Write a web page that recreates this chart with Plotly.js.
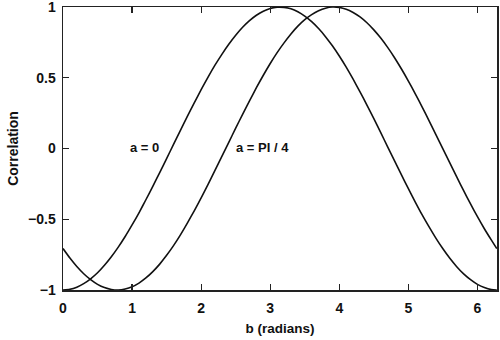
<!DOCTYPE html>
<html><head><meta charset="utf-8">
<script src="https://cdn.plot.ly/plotly-3.0.1.min.js"></script>
<style>html,body{margin:0;padding:0;background:#fff}#c{width:500px;height:340px}</style>
</head><body><div id="c"></div>
<script>
var b = [0,0.1,0.2,0.3,0.4,0.5,0.6,0.7,0.8,0.9,1.0,1.1,1.2,1.3,1.4,1.5,1.6,1.7,1.8,1.9,2.0,2.1,2.2,2.3,2.4,2.5,2.6,2.7,2.8,2.9,3.0,3.1,3.2,3.3,3.4,3.5,3.6,3.7,3.8,3.9,4.0,4.1,4.2,4.3,4.4,4.5,4.6,4.7,4.8,4.9,5.0,5.1,5.2,5.3,5.4,5.5,5.6,5.7,5.8,5.9,6.0,6.1,6.2,6.28];
var corrA0 = [-1,-0.995,-0.98,-0.955,-0.921,-0.878,-0.825,-0.765,-0.697,-0.622,-0.54,-0.454,-0.362,-0.267,-0.17,-0.071,0.029,0.129,0.227,0.323,0.416,0.505,0.589,0.666,0.737,0.801,0.857,0.904,0.942,0.971,0.99,0.999,0.998,0.988,0.967,0.936,0.897,0.848,0.791,0.726,0.654,0.575,0.49,0.401,0.307,0.211,0.112,0.012,-0.087,-0.186,-0.284,-0.378,-0.469,-0.554,-0.635,-0.709,-0.776,-0.835,-0.886,-0.927,-0.96,-0.983,-0.997,-1];
var corrAPi4 = [-0.707,-0.774,-0.834,-0.885,-0.927,-0.96,-0.983,-0.996,-1.0,-0.993,-0.977,-0.951,-0.915,-0.87,-0.817,-0.755,-0.686,-0.61,-0.527,-0.44,-0.348,-0.253,-0.155,-0.056,0.044,0.144,0.242,0.337,0.43,0.518,0.601,0.678,0.747,0.81,0.865,0.911,0.947,0.974,0.992,1.0,0.997,0.985,0.962,0.93,0.889,0.839,0.781,0.715,0.642,0.562,0.477,0.387,0.293,0.196,0.097,-0.003,-0.102,-0.201,-0.298,-0.392,-0.482,-0.567,-0.646,-0.707];
var xTicks = [0,1,2,3,4,5,6];
var yTicks = [-1,-0.5,0,0.5,1];
var yTickText = ['\u22121','\u22120.5','0','0.5','1'];
var labels = ['a = 0','a = PI / 4'];
var labelX = [1.18,2.89];
var labelY = [0.01,0.01];

var fam = 'Liberation Sans, Arial, sans-serif';
var tickFont = {family:fam, size:14, color:'#111', weight:'bold'};
var titleFont = {family:fam, size:13, color:'#111', weight:'bold'};
var line = {color:'#111', width:1.6, shape:'spline', smoothing:0.6};
var data = [
  {x:b, y:corrA0, mode:'lines', line:line, showlegend:false, hoverinfo:'skip'},
  {x:b, y:corrAPi4, mode:'lines', line:line, showlegend:false, hoverinfo:'skip'}
];
var axisCommon = {showgrid:false, zeroline:false, showline:true, linecolor:'#222', linewidth:1.5,
  mirror:'ticks', ticks:'inside', ticklen:6, tickwidth:1.2, tickcolor:'#222', tickfont:tickFont,
  ticklabeloverflow:'allow'};
var layout = {
  width:500, height:340,
  margin:{l:63, r:3, t:7, b:50},
  paper_bgcolor:'#fff', plot_bgcolor:'#fff',
  font:titleFont,
  xaxis:Object.assign({}, axisCommon, {range:[0,6.283], tickvals:xTicks, ticktext:xTicks.map(String),
    ticklabelstandoff:5, title:{text:'b (radians)', font:{family:fam, size:13.5, color:'#111', weight:'bold'}, standoff:8}}),
  yaxis:Object.assign({}, axisCommon, {range:[-1,1.0005], tickvals:yTicks, ticktext:yTickText,
    ticklabelstandoff:3, title:{text:'Correlation', font:{family:fam, size:14, color:'#111', weight:'bold'}, standoff:6}}),
  annotations: labels.map(function(t,i){return {x:labelX[i], y:labelY[i], text:t, showarrow:false, font:titleFont, xanchor:'center', yanchor:'middle'};})
};
Plotly.newPlot('c', data, layout, {staticPlot:true});
</script></body></html>
